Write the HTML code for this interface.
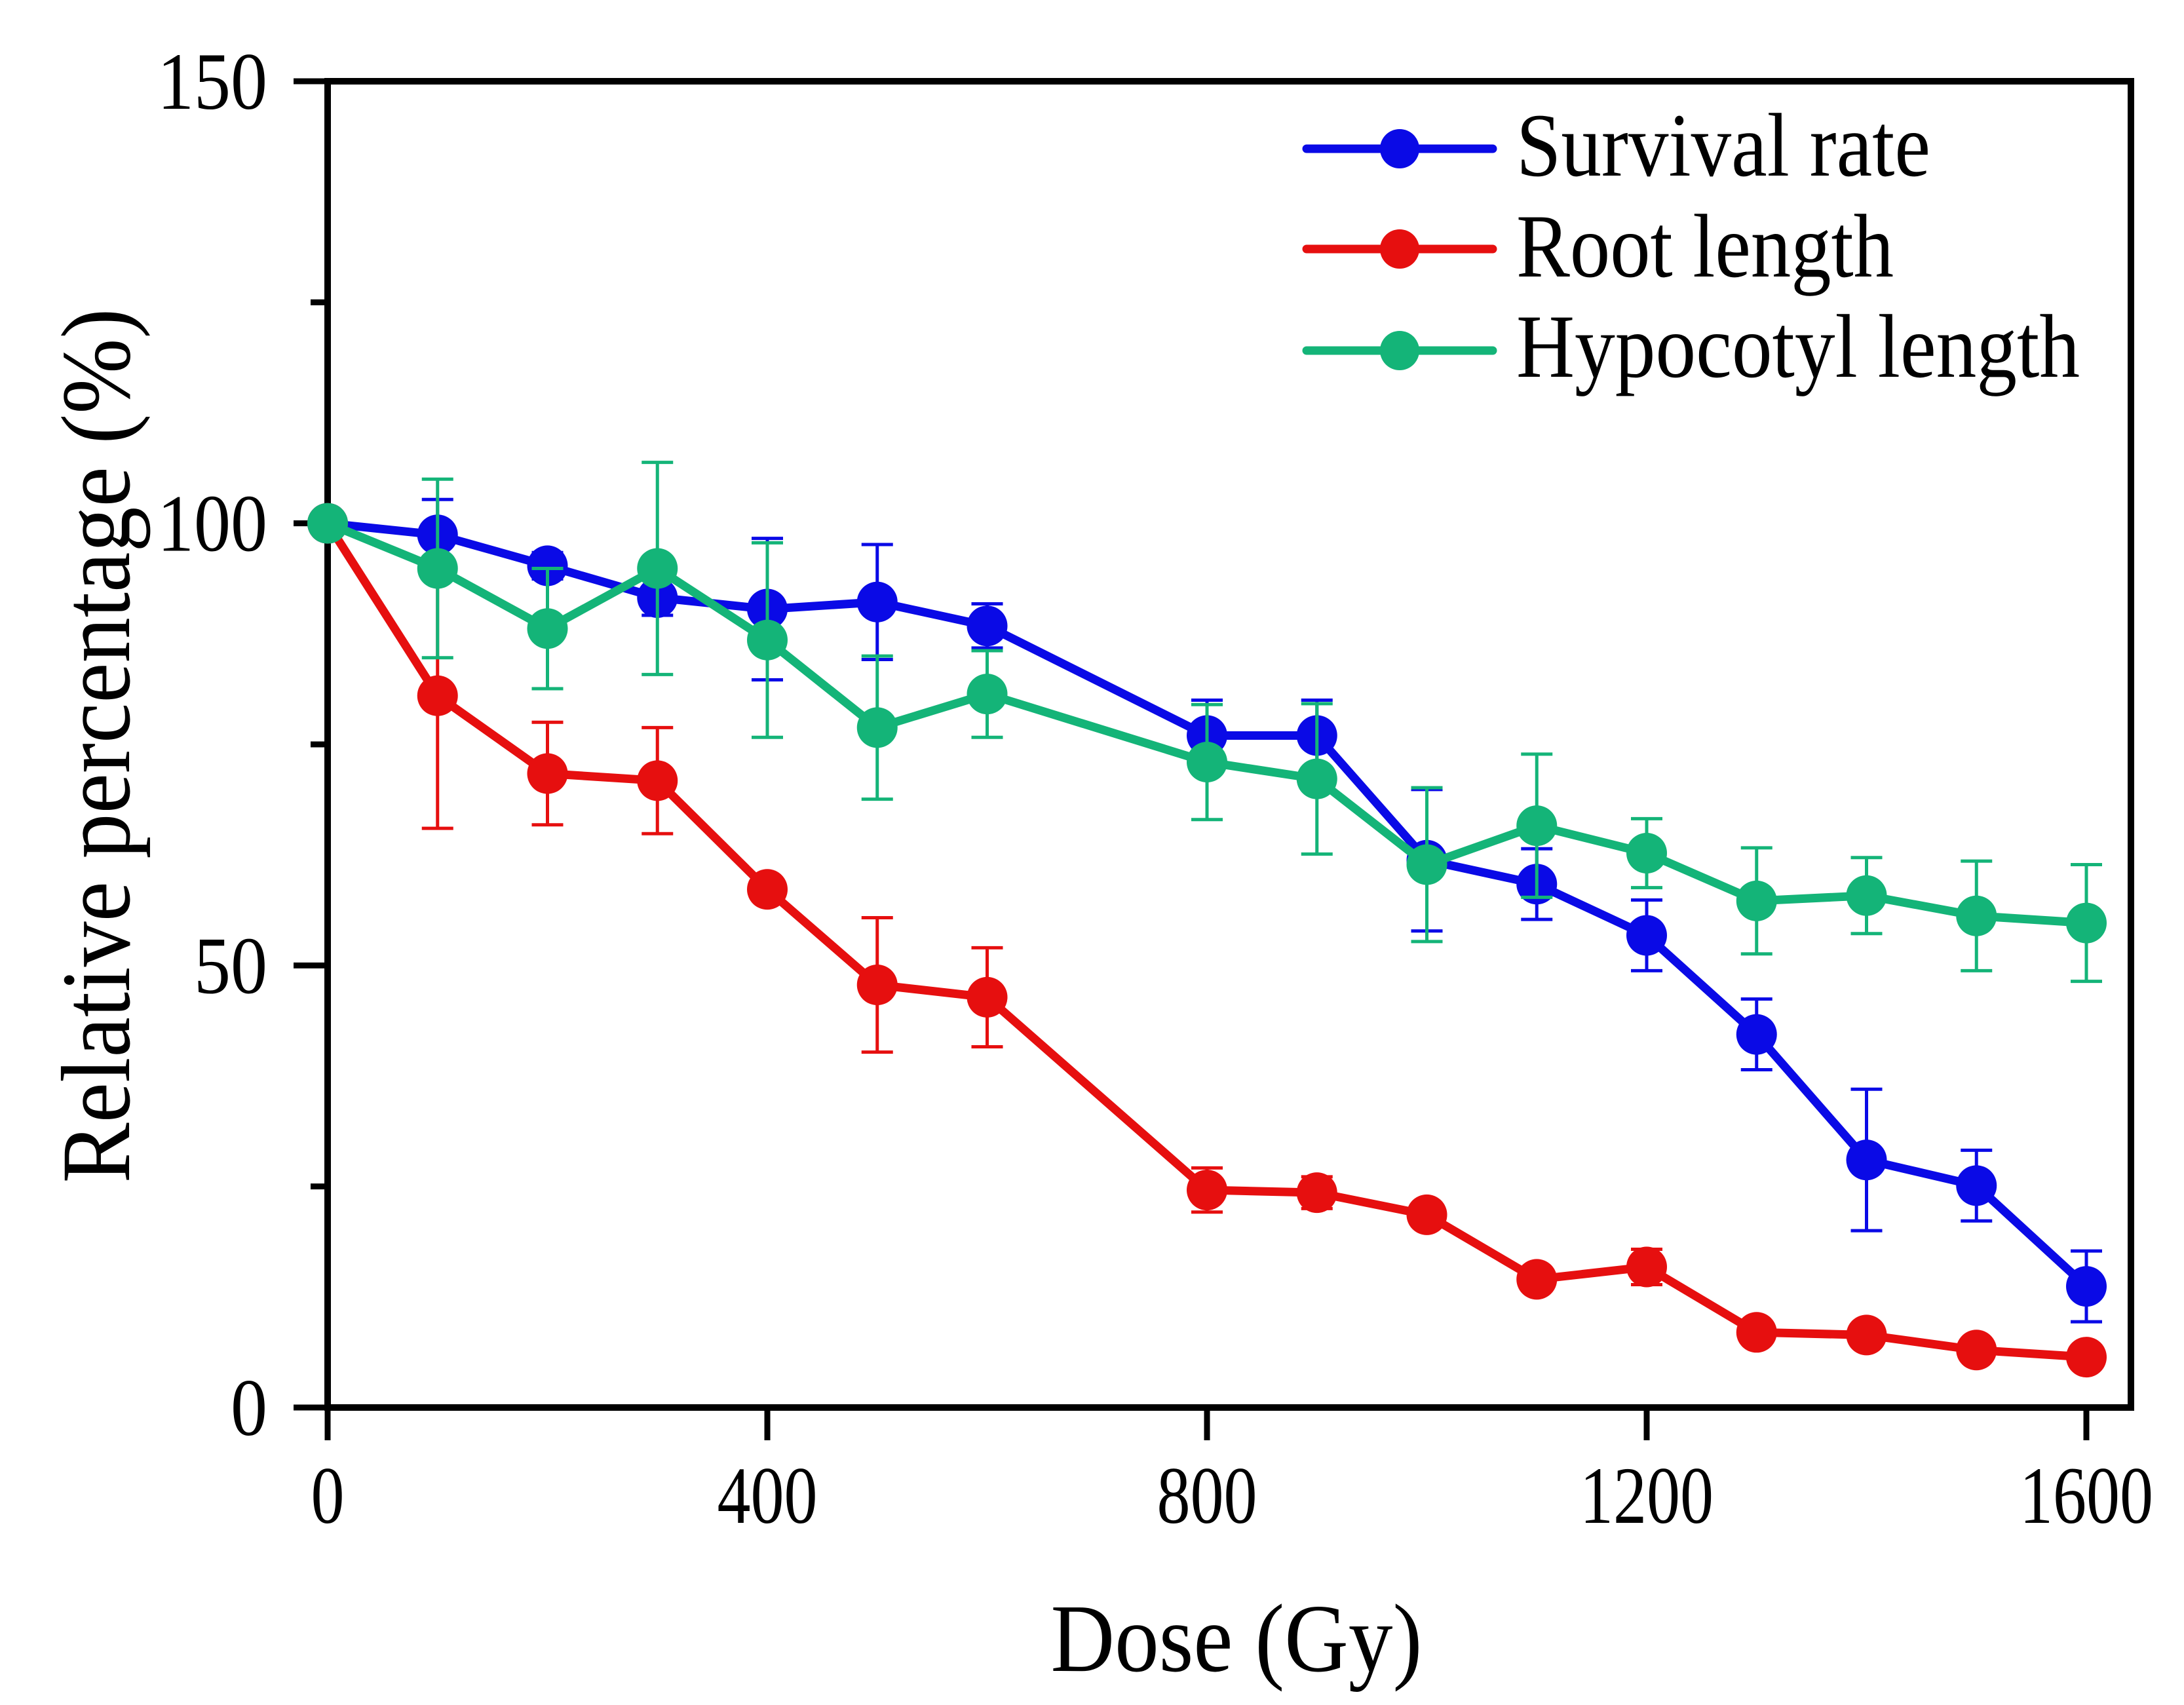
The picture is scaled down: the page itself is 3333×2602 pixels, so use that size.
<!DOCTYPE html>
<html><head><meta charset="utf-8"><style>
html,body{margin:0;padding:0;background:#fff;}
svg{display:block;font-family:"Liberation Serif",serif;}
</style></head><body>
<svg id="chart" width="3333" height="2602" viewBox="0 0 3333 2602">
<g id="axes"></g>
<g id="series"></g>
<g id="legend"></g>
</svg>
<script>
const doses = [0,100,200,300,400,500,600,800,900,1000,1100,1200,1300,1400,1500,1600];
const survival = [100,98.7,95.2,91.6,90.3,91.1,88.4,76,76,61.9,59.2,53.4,42.2,28,25.1,13.7];
const survivalErr = [0,4,1.5,2,8,6.5,2.5,4,4,8,4,4,4,8,4,4];
const root = [100,80.5,71.7,70.9,58.6,47.8,46.4,24.6,24.3,21.8,14.5,15.9,8.5,8.2,6.5,5.7];
const rootErr = [0,15,5.8,6,1,7.6,5.6,2.5,1.8,1,1,2,0.8,0.8,0.8,0.8];
const hypocotyl = [100,94.9,88.1,94.9,86.8,76.9,80.7,73,71.1,61.4,65.8,62.7,57.3,57.9,55.6,54.8];
const hypocotylErr = [0,10.1,6.8,12,11,8.1,4.9,6.5,8.5,8.7,8.1,3.9,6,4.3,6.2,6.6];
const xTicks = [0,400,800,1200,1600];
const yTicks = [0,50,100,150];
const yMinor = [25,75,125];
const seriesNames = ["Survival rate","Root length","Hypocotyl length"];

const L=500,R=3252,T=124,B=2148;
const X0=500, XPER=(3184-500)/1600;
const x = v => X0 + v*XPER;
const y = v => B - v*(B-T)/150;
const NS="http://www.w3.org/2000/svg";
function mk(tag, attrs, parent){const e=document.createElementNS(NS,tag);for(const k in attrs)e.setAttribute(k,attrs[k]);parent.appendChild(e);return e;}
const axes=document.getElementById('axes'), ser=document.getElementById('series'), leg=document.getElementById('legend');

let fr=mk('rect',{x:L,y:T,width:R-L,height:B-T,fill:'none',stroke:'#000','stroke-width':10},axes);


yTicks.forEach(v=>{
  let t=mk('line',{x1:L-52,x2:L,y1:y(v),y2:y(v),stroke:'#000','stroke-width':9},axes);
  
  
  let s=String(v);
  let lb=mk('text',{x:408,y:y(v)+42,'text-anchor':'end','font-size':124,textLength:s.length*56,lengthAdjust:'spacingAndGlyphs'},axes);
  lb.textContent=s;
  
  
});
yMinor.forEach(v=>{
  let t=mk('line',{x1:L-26,x2:L,y1:y(v),y2:y(v),stroke:'#000','stroke-width':9},axes);
  
  
});
xTicks.forEach(v=>{
  let t=mk('line',{x1:x(v),x2:x(v),y1:B,y2:B+50,stroke:'#000','stroke-width':9},axes);
  
  
  let s=String(v);
  let lb=mk('text',{x:x(v),y:2324,'text-anchor':'middle','font-size':124,textLength:s.length*51,lengthAdjust:'spacingAndGlyphs'},axes);
  lb.textContent=s;
  
  
});
let xt=mk('text',{x:1887,y:2550,'text-anchor':'middle','font-size':148,textLength:567,lengthAdjust:'spacingAndGlyphs'},axes);
xt.textContent='Dose (Gy)';


let yt=mk('text',{x:0,y:0,'text-anchor':'middle','font-size':150,textLength:1335,lengthAdjust:'spacingAndGlyphs',transform:'translate(197,1138) rotate(-90)'},axes);
yt.textContent='Relative percentage (%)';



const colors=['#0a0ae6','#e60f0f','#14b478'];
const vals=[survival,root,hypocotyl], errs=[survivalErr,rootErr,hypocotylErr];
const keys=['survival','root','hypocotyl'];
vals.forEach((vs,si)=>{
  const g=mk('g',{},ser);
  
  
  vs.forEach((v,i)=>{
    const e=errs[si][i]; if(e<=0) return;
    const cx=x(doses[i]);
    const eb=mk('path',{d:`M${cx},${y(v+e)}V${y(v-e)}M${cx-24},${y(v+e)}H${cx+24}M${cx-24},${y(v-e)}H${cx+24}`,stroke:colors[si],'stroke-width':5,fill:'none'},g);
    
    
  });
  const ln=mk('polyline',{points:vs.map((v,i)=>x(doses[i])+','+y(v)).join(' '),fill:'none',stroke:colors[si],'stroke-width':13,'stroke-linejoin':'round'},g);
  
  
  vs.forEach((v,i)=>{
    const c=mk('circle',{cx:x(doses[i]),cy:y(v),r:31,fill:colors[si]},g);
    
    
  });
});

const legY=[227,380,535], legBase=[268,422,575], legW=[632,576,860];
seriesNames.forEach((n,i)=>{
  const g=mk('g',{},leg);
  
  
  mk('line',{x1:1994,x2:2278,y1:legY[i],y2:legY[i],stroke:colors[i],'stroke-width':13,'stroke-linecap':'round'},g);
  mk('circle',{cx:2136,cy:legY[i],r:30,fill:colors[i]},g);
  const t=mk('text',{x:2314,y:legBase[i],'font-size':138,textLength:legW[i],lengthAdjust:'spacingAndGlyphs'},g);
  t.textContent=n;
});
</script>
</body></html>
